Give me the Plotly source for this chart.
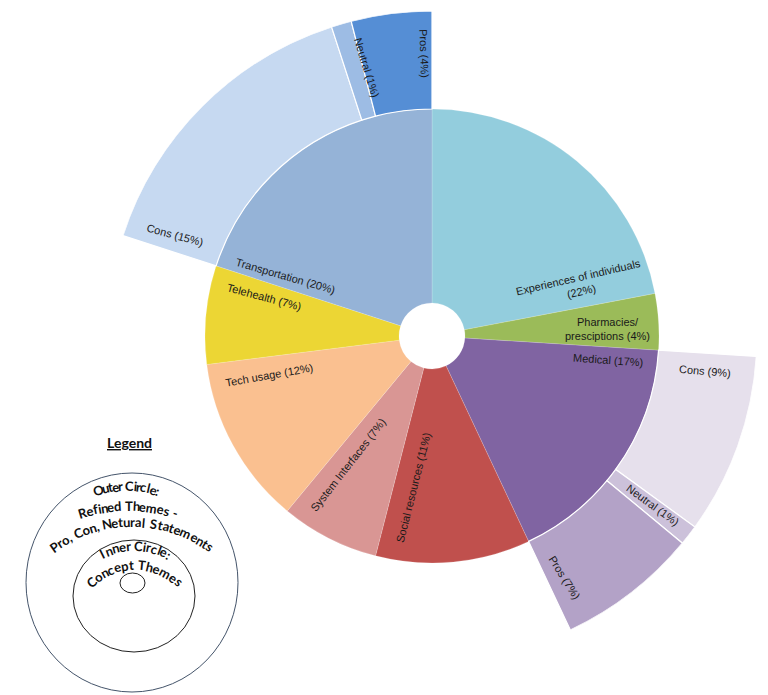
import math
import plotly.graph_objects as go

# ---------------- data ----------------
inner_labels = ["Experiences of individuals", "Pharmacies/ presciptions", "Medical",
                "Social resources", "System Interfaces", "Tech usage", "Telehealth",
                "Transportation"]
inner_values = [22, 4, 17, 11, 7, 12, 7, 20]
inner_colors = ["#93CDDD", "#9BBB59", "#8064A2", "#C0504D", "#D99694", "#FAC090",
                "#ECD634", "#95B3D7"]

outer_parents = ["Medical", "Medical", "Medical", "Transportation", "Transportation", "Transportation"]
outer_labels = ["Cons", "Neutral", "Pros", "Cons", "Neutral", "Pros"]
outer_values = [9, 1, 7, 15, 1, 4]
outer_colors = ["#E6E0EC", "#CCC1DA", "#B3A2C7", "#C6D9F1", "#9DBCE4", "#558ED5"]

# label placement styles (radius, angle clockwise from top, text rotation)
inner_label_r = [157, 176, 178, 153, 154, 167, 172, 158]
inner_label_theta = [70.6, 87.7, 97.8, 187.1, 213.1, 256.5, 283.1, 292.3]
inner_label_rot = [-13, 0, 4, -76, -52, -10, 15, 16]
inner_label_text = ["Experiences of individuals<br>(22%)", "Pharmacies/<br>presciptions (4%)",
                    None, None, None, None, None, None]
outer_label_r = [275, 278, 276, 276, 276, 283]
outer_label_theta = [97.3, 127.4, 151.2, 291.5, 346.4, 358.4]
outer_label_rot = [5, 36, 58, 15, 73, 88]

# ---------------- geometry ----------------
W, H = 768, 695
CX, CY = 432, 336
R_HOLE, R_IN, R_OUT = 33, 227, 325

def spans(values, start=0.0):
    out, a = [], start
    for v in values:
        out.append((a, a + v * 3.6))
        a += v * 3.6
    return out

inner_spans = spans(inner_values)
parent_start = {lab: s[0] for lab, s in zip(inner_labels, inner_spans)}
outer_spans = []
cursor = {}
for p, v in zip(outer_parents, outer_values):
    a = cursor.get(p, parent_start[p])
    outer_spans.append((a, a + v * 3.6))
    cursor[p] = a + v * 3.6

fig = go.Figure()
fig.add_trace(go.Barpolar(
    theta=[(a + b) / 2 for a, b in inner_spans],
    width=[b - a for a, b in inner_spans],
    r=[R_IN - R_HOLE] * len(inner_values),
    base=R_HOLE,
    marker=dict(color=inner_colors, line=dict(color="rgba(255,255,255,0.35)", width=0.5)),
    text=inner_labels, hoverinfo="text", showlegend=False,
))
fig.add_trace(go.Barpolar(
    theta=[(a + b) / 2 for a, b in outer_spans],
    width=[b - a for a, b in outer_spans],
    r=[R_OUT - R_IN] * len(outer_values),
    base=R_IN,
    marker=dict(color=outer_colors, line=dict(color="white", width=1.2)),
    text=outer_labels, hoverinfo="text", showlegend=False,
))

def to_paper(r, theta_deg):
    t = math.radians(theta_deg)
    x = CX + r * math.sin(t)
    y = CY - r * math.cos(t)
    return x / W, 1 - y / H

annotations = []
lab_font = dict(family="Liberation Sans, Arial", size=11, color="#1a1a1a")
for i, (lab, v) in enumerate(zip(inner_labels, inner_values)):
    txt = inner_label_text[i] or f"{lab} ({v}%)"
    x, y = to_paper(inner_label_r[i], inner_label_theta[i])
    annotations.append(dict(x=x, y=y, xref="paper", yref="paper", text=txt, showarrow=False,
                            textangle=inner_label_rot[i], font=lab_font, align="center",
                            xanchor="center", yanchor="middle"))
for i, (lab, v) in enumerate(zip(outer_labels, outer_values)):
    x, y = to_paper(outer_label_r[i], outer_label_theta[i])
    annotations.append(dict(x=x, y=y, xref="paper", yref="paper", text=f"{lab} ({v}%)",
                            showarrow=False, textangle=outer_label_rot[i], font=lab_font,
                            xanchor="center", yanchor="middle"))

# ---------------- legend (decorative diagram) ----------------
leg_font = dict(family="Lato, Open Sans", size=13, color="#111111", weight="bold")

def char_w(c):
    if c in "il.,:;' ": return 0.26
    if c in "tfrj-": return 0.36
    if c in "mw": return 0.82
    if c in "MW": return 0.88
    if c.isupper(): return 0.64
    return 0.52

def arc_text(text, cx, cy, R, a0, a1):
    ws = [char_w(c) for c in text]
    tot = sum(ws)
    span = math.radians(a1 - a0)
    acc = 0.0
    for c, w in zip(text, ws):
        a = math.radians(a0) + span * (acc + w / 2) / tot
        acc += w
        if c == " ":
            continue
        x = cx + R * math.sin(a)
        y = cy - R * math.cos(a)
        annotations.append(dict(x=x / W, y=1 - y / H, xref="paper", yref="paper", text=c,
                                showarrow=False, textangle=math.degrees(a), font=leg_font,
                                xanchor="center", yanchor="middle"))

arc_text("Outer Circle:", 127, 584, 98, -19, 19)
arc_text("Refined Themes -", 128, 667, 161, -18, 18)
arc_text("Pro, Con, Netural Statements", 132, 657, 135, -37, 37)
arc_text("Inner Circle:", 134, 618, 72, -30, 30)
arc_text("Concept Themes", 135, 630, 65, -46, 46)

annotations.append(dict(x=129 / W, y=1 - 442 / H, xref="paper", yref="paper",
                        text="<u>Legend</u>", showarrow=False, xanchor="center", yanchor="middle",
                        font=dict(family="Lato, Open Sans", size=14, color="#111111", weight="bold")))

shapes = []
for (x0, y0, x1, y1, col) in [(26, 473, 238, 692, "#44546A"), (73, 540, 195, 652, "#222222"),
                              (120, 573, 145, 593, "#222222")]:
    shapes.append(dict(type="circle", xref="paper", yref="paper", x0=x0 / W, x1=x1 / W,
                       y0=1 - y1 / H, y1=1 - y0 / H, line=dict(color=col, width=1)))

fig.update_layout(
    width=W, height=H, margin=dict(l=0, r=0, t=0, b=0),
    paper_bgcolor="white", plot_bgcolor="white",
    polar=dict(
        domain=dict(x=[(CX - R_OUT) / W, (CX + R_OUT) / W],
                    y=[(H - CY - R_OUT) / H, (H - CY + R_OUT) / H]),
        bgcolor="rgba(0,0,0,0)", hole=0, bargap=0,
        radialaxis=dict(range=[0, R_OUT], showline=False, showticklabels=False, ticks="",
                        tickvals=[130], gridcolor="rgba(255,255,255,0.3)", layer="above traces"),
        angularaxis=dict(rotation=90, direction="clockwise", showgrid=False, showline=False,
                         showticklabels=False, ticks=""),
    ),
    annotations=annotations, shapes=shapes, showlegend=False,
)

fig.write_html("out.html", config={"displayModeBar": False},
               post_script="document.body.style.margin='0px';")
